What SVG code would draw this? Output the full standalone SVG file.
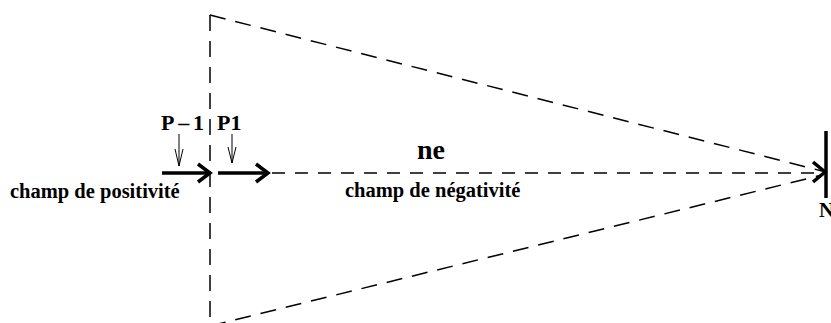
<svg xmlns="http://www.w3.org/2000/svg" width="831" height="323" viewBox="0 0 831 323">
<style>
.d{fill:none;stroke:#000;stroke-width:1.5;stroke-dasharray:16 10}
.h{fill:none;stroke:#000;stroke-width:1.5;stroke-dasharray:13 10}
.k{fill:none;stroke:#000;stroke-width:3.5}
.t{fill:none;stroke:#000;stroke-width:1}
text{font-family:"Liberation Serif","Times New Roman",serif;font-weight:bold;fill:#000}
</style>
<rect width="831" height="323" fill="#fff"/>
<g id="connectors">
<line class="d" x1="210" y1="15" x2="210" y2="323"/>
<line class="d" x1="210" y1="15" x2="822" y2="171"/>
<line class="d" x1="210" y1="326" x2="822" y2="175"/>
<line class="h" x1="272" y1="173" x2="822" y2="173"/>
<line class="k" x1="162" y1="173" x2="209" y2="173"/>
<polyline class="k" points="198,164 210,173 198,182"/>
<line class="k" x1="218" y1="173" x2="266" y2="173"/>
<polyline class="k" points="256,164 268,173 256,182"/>
<line class="t" x1="179" y1="134" x2="179" y2="166"/>
<polyline class="t" points="175,149 179,166 183,149"/>
<line class="t" x1="232" y1="134" x2="232" y2="163"/>
<polyline class="t" points="228,147 232,163 236,147"/>
<polyline class="k" points="813,162 825,172 813,182"/>
</g>
<g id="N"><line class="k" x1="826" y1="131" x2="826" y2="198"/><text x="819" y="217" font-size="21">N</text></g>
<g id="P-1"><text x="161" y="130" font-size="22" textLength="43" lengthAdjust="spacing">P–1</text></g>
<g id="P1"><text x="217" y="130" font-size="22">P1</text></g>
<g id="ne"><text x="431" y="159" font-size="28" text-anchor="middle">ne</text></g>
<g id="positivite"><text x="10" y="198" font-size="20.5">champ de positivité</text></g>
<g id="negativite"><text x="345" y="197" font-size="20.5">champ de négativité</text></g>
</svg>
